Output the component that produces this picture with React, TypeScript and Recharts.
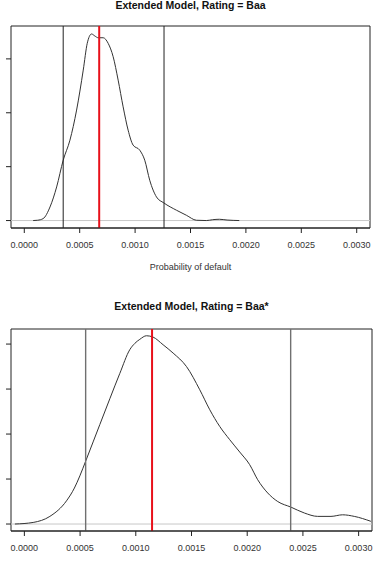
import React from 'react';
import { ComposedChart, Line, XAxis, YAxis, ReferenceLine, ReferenceArea } from 'recharts';

// Density estimate, rating Baa (x = probability of default, y = density)
const baaP = [
  0.00008, 0.00012, 0.00017, 0.000232, 0.000292, 0.000351, 0.000412, 0.000472, 0.000532, 0.000568,
  0.000607, 0.000637, 0.000667, 0.000712, 0.000757, 0.000802, 0.000847, 0.000892, 0.000937, 0.000982,
  0.001042, 0.001087, 0.001132, 0.001193, 0.001259, 0.001373, 0.001463, 0.001553, 0.001643, 0.0017,
  0.00176, 0.00183, 0.00194,
];
const baaDensity = [
  0, 3, 18, 126, 312, 560, 746, 1025, 1396, 1644,
  1731, 1712, 1696, 1696, 1644, 1520, 1303, 1055, 839, 700,
  653, 560, 374, 219, 164, 96, 49, 3, 0, 8,
  12, 5, 0,
];
const baaBounds = [0.000351, 0.001261];
const baaEstimate = 0.000676;

// Density estimate, rating Baa*
const baaStarP = [
  -0.000085, 0.000079, 0.000229, 0.000378, 0.000449, 0.000498, 0.000549, 0.000617, 0.000677, 0.000767,
  0.000857, 0.000946, 0.000991, 0.001036, 0.001096, 0.001155, 0.001245, 0.001335, 0.001455, 0.001574,
  0.001664, 0.001753, 0.001843, 0.001933, 0.002022, 0.002094, 0.002184, 0.002274, 0.002393, 0.002513,
  0.002632, 0.002752, 0.002856, 0.002961, 0.00311,
];
const baaStarDensity = [
  0, 7, 34, 103, 160, 214, 278, 365, 442, 557,
  670, 775, 803, 821, 837, 831, 797, 760, 700, 597,
  508, 434, 375, 320, 264, 197, 138, 100, 75, 49,
  34, 34, 41, 34, 12,
];
const baaStarBounds = [0.00055, 0.00239];
const baaStarEstimate = 0.001146;

const xTicks = [0, 0.0005, 0.001, 0.0015, 0.002, 0.0025, 0.003];
const baaYTicks = [0, 500, 1000, 1500];
const baaStarYTicks = [0, 200, 400, 600, 800];

const xDomain: [number, number] = [-0.00012, 0.00312];
const FONT = '"Liberation Sans", Arial, Helvetica, sans-serif';

interface DensityPanelProps {
  p: number[];
  density: number[];
  bounds: number[];
  estimate: number;
  yTicks: number[];
  yDomain: [number, number];
  width: number;
  height: number;
  margin: { top: number; right: number; bottom: number; left: number };
  xAxisHeight: number;
  boundColor: string;
  boundWidth: number;
  xLabel?: string;
}

const NoTick = () => <g />;

const DensityPanel: React.FC<DensityPanelProps> = ({
  p, density, bounds, estimate, yTicks, yDomain, width, height, margin, xAxisHeight,
  boundColor, boundWidth, xLabel,
}) => {
  const data = p.map((x, i) => ({ p: x, d: density[i] }));

  return (
    <ComposedChart width={width} height={height} data={data} margin={margin}>
      <XAxis
        dataKey="p"
        type="number"
        domain={xDomain}
        allowDataOverflow
        ticks={xTicks}
        interval={0}
        height={xAxisHeight}
        tickSize={5}
        tickMargin={9}
        stroke="#222"
        tick={{ fontSize: 9, fill: '#333', fontFamily: FONT }}
        tickFormatter={(v: number) => v.toFixed(4)}
        label={xLabel ? { value: xLabel, position: 'insideBottom', offset: 10, fontSize: 9, fill: '#333', fontFamily: FONT } : undefined}
      />
      <YAxis
        type="number"
        domain={yDomain}
        allowDataOverflow
        ticks={yTicks}
        interval={0}
        width={11}
        tickSize={5}
        axisLine={false}
        stroke="#222"
        tick={NoTick}
      />
      <ReferenceLine y={0} stroke="#c8c8c8" strokeWidth={1} />
      <Line
        dataKey="d"
        type="monotone"
        stroke="#333"
        strokeWidth={1}
        dot={false}
        isAnimationActive={false}
      />
      {bounds.map((b) => (
        <ReferenceLine key={b} x={b} stroke={boundColor} strokeWidth={boundWidth} />
      ))}
      <ReferenceLine x={estimate} stroke="#e8101a" strokeWidth={2} />
      <ReferenceArea
        x1={xDomain[0]}
        x2={xDomain[1]}
        y1={yDomain[0]}
        y2={yDomain[1]}
        fill="none"
        fillOpacity={0}
        stroke="#222"
        strokeWidth={1}
      />
    </ComposedChart>
  );
};

export default function App() {
  return (
    <div style={{ position: 'absolute', left: 0, top: 0, width: 378, height: 561, overflow: 'hidden', background: '#fff' }}>
      <div style={{ position: 'absolute', left: 0, top: 0 }}>
        <DensityPanel
          p={baaP}
          density={baaDensity}
          bounds={baaBounds}
          estimate={baaEstimate}
          yTicks={baaYTicks}
          yDomain={[-69, 1805]}
          width={378}
          height={280}
          margin={{ top: 26, right: 8, bottom: 0, left: 0 }}
          xAxisHeight={52}
          boundColor="#222"
          boundWidth={1}
          xLabel="Probability of default"
        />
      </div>
      <div style={{ position: 'absolute', left: 0, top: 280 }}>
        <DensityPanel
          p={baaStarP}
          density={baaStarDensity}
          bounds={baaStarBounds}
          estimate={baaStarEstimate}
          yTicks={baaStarYTicks}
          yDomain={[-31, 867]}
          width={378}
          height={281}
          margin={{ top: 49, right: 6, bottom: 0, left: 0 }}
          xAxisHeight={30}
          boundColor="#707070"
          boundWidth={1.4}
        />
      </div>
      <svg width={378} height={561} style={{ position: 'absolute', left: 0, top: 0, pointerEvents: 'none' }}>
        <text x={190.5} y={8.6} textAnchor="middle" fontSize={10.5} fontWeight="bold" fill="#111" fontFamily={FONT}>
          Extended Model, Rating = Baa
        </text>
        <text x={191.5} y={309.5} textAnchor="middle" fontSize={10.5} fontWeight="bold" fill="#111" fontFamily={FONT}>
          Extended Model, Rating = Baa*
        </text>
      </svg>
    </div>
  );
}
